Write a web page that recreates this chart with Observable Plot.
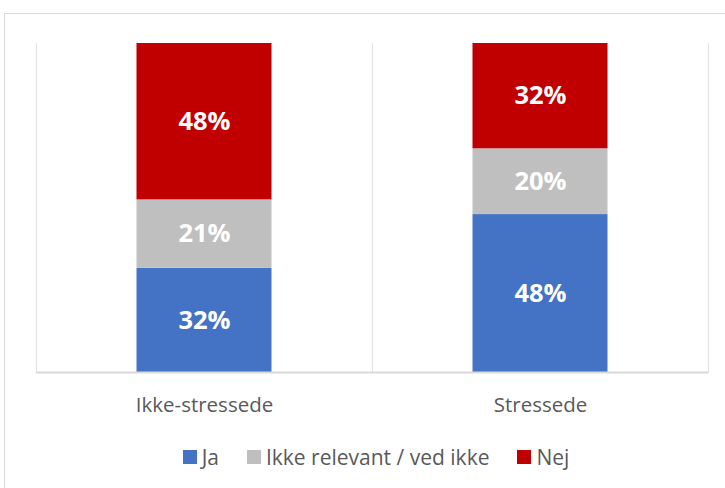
<!DOCTYPE html>
<html><head><meta charset="utf-8">
<script src="https://cdn.jsdelivr.net/npm/d3@7"></script>
<script src="https://cdn.jsdelivr.net/npm/@observablehq/plot@0.6"></script>
<style>
body{margin:0;background:#fff;}
#wrap{position:relative;width:725px;height:488px;overflow:hidden;font-family:"Open Sans",sans-serif;background:#fff;}
#border{position:absolute;left:4px;top:13px;width:760px;height:520px;border:1.5px solid #d9d9d9;box-sizing:border-box;}
#chart{position:absolute;left:0;top:0;}
#legend{position:absolute;left:0;top:443px;width:752px;height:28px;display:flex;justify-content:center;align-items:center;font-size:21px;color:#595959;}
.item{display:flex;align-items:center;margin:0 14px;}
.sw{width:14px;height:14px;margin-right:5px;}
</style></head>
<body>
<div id="wrap"><div id="border"></div><div id="chart"></div><div id="legend"></div></div>
<script>
const categories = ["Ikke-stressede", "Stressede"];
const responses = ["Ja", "Ikke relevant / ved ikke", "Nej"];
const colors = ["#4472C4", "#BFBFBF", "#C00000"];
const jaValues = [32, 48];
const ikkeRelevantValues = [21, 20];
const nejValues = [48, 32];

const seriesValues = [jaValues, ikkeRelevantValues, nejValues];
const data = [];
categories.forEach((cat, i) => {
  responses.forEach((resp, j) => {
    data.push({cat, resp, value: seriesValues[j][i]});
  });
});

const chart = Plot.plot({
  width: 725,
  height: 425,
  marginLeft: 36,
  marginRight: 17,
  marginTop: 43,
  marginBottom: 53,
  style: {fontFamily: "'Open Sans', sans-serif", fontSize: "20.5px", color: "#595959", background: "transparent"},
  fx: {domain: categories, padding: 0, axis: "bottom", label: null, tickSize: 0, tickPadding: 25},
  y: {axis: null, domain: [0, 1]},
  color: {domain: responses, range: colors},
  marks: [
    Plot.frame({anchor: "left", stroke: "#e3e3e3", strokeWidth: 1}),
    Plot.frame({anchor: "right", stroke: "#e3e3e3", strokeWidth: 1}),
    Plot.barY(data, {fx: "cat", y: "value", z: "resp", fill: "resp", offset: "normalize", insetLeft: 100.5, insetRight: 100.5}),
    Plot.ruleY([0], {stroke: "#d9d9d9", strokeWidth: 2}),
    Plot.text(data, Plot.stackY({fx: "cat", y: "value", z: "resp", offset: "normalize", text: d => d.value + "%", fill: "white", fontWeight: "bold", fontSize: 25.5}))
  ]
});
document.getElementById("chart").appendChild(chart);

const legend = document.getElementById("legend");
responses.forEach((r, i) => {
  const it = document.createElement("div");
  it.className = "item";
  const sw = document.createElement("div");
  sw.className = "sw";
  sw.style.background = colors[i];
  const t = document.createElement("span");
  t.textContent = r;
  it.appendChild(sw); it.appendChild(t);
  legend.appendChild(it);
});
</script>
</body></html>
